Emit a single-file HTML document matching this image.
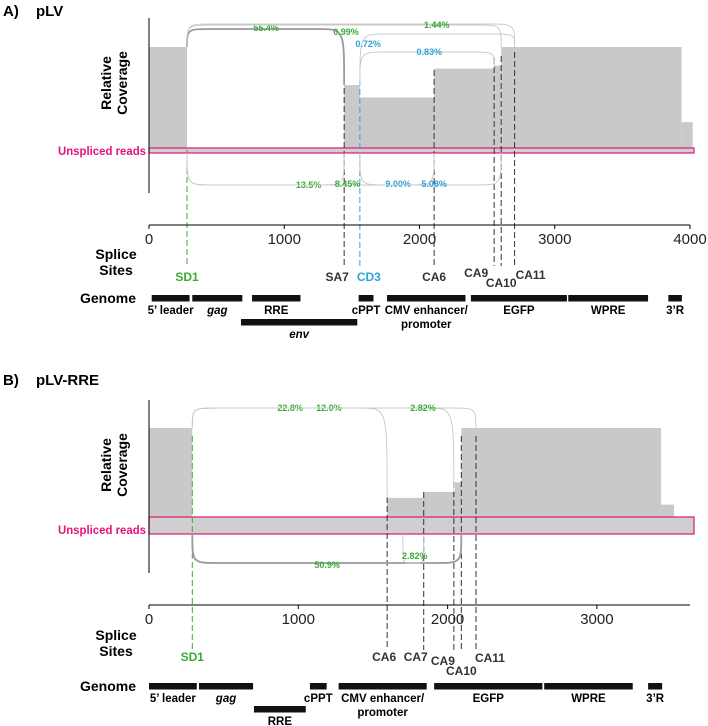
<!DOCTYPE html>
<html><head><meta charset="utf-8">
<style>
html,body{margin:0;padding:0;background:#fff;}
svg{display:block;font-family:"Liberation Sans",Arial,sans-serif;}
</style></head>
<body>
<svg id="fig" width="708" height="726" viewBox="0 0 708 726"></svg>
<script>
// ---------- Panel A data ----------
const aTicks = [0, 1000, 2000, 3000, 4000];
const aCovStart = [0, 1443, 1559, 2108, 2552, 2604, 3938];
const aCovEnd   = [281, 1559, 2108, 2552, 2604, 3938, 4020];
const aCovLevel = [100, 63, 51, 79, 82, 100, 27];
const aSiteNames = ["SD1", "SA7", "CD3", "CA6", "CA9", "CA10", "CA11"];
const aSiteBp    = [281, 1443, 1559, 2108, 2552, 2604, 2703];
const aArcFrom   = [281, 281, 281, 1559, 1559, 281, 281, 1559, 1559];
const aArcTo     = [1443, 2604, 2703, 2703, 2552, 1443, 2108, 2108, 2604];
const aArcLabel  = ["55.4%", "0.99%", "1.44%", "0.72%", "0.83%", "13.5%", "8.45%", "9.00%", "5.08%"];
const aArcLabelBp= [866, 1457, 2128, 1620, 2072, 1180, 1468, 1842, 2108];
const aGenomeNames = ["5’ leader", "gag", "RRE", "env", "cPPT", "CMV enhancer/|promoter", "EGFP", "WPRE", "3’R"];
const aGenomeStart = [20, 320, 762, 680, 1550, 1760, 2380, 3100, 3840];
const aGenomeEnd   = [300, 690, 1120, 1540, 1660, 2340, 3090, 3690, 3940];
const aGenomeRow   = [0, 0, 0, 1, 0, 0, 0, 0, 0];

// ---------- Panel B data ----------
const bTicks = [0, 1000, 2000, 3000];
const bCovStart = [0, 290, 1595, 1840, 2050, 2092, 3430];
const bCovEnd   = [290, 1595, 1840, 2050, 2092, 3430, 3517];
const bCovLevel = [100, 8, 28, 34, 44, 100, 21];
const bSiteNames = ["SD1", "CA6", "CA7", "CA9", "CA10", "CA11"];
const bSiteBp    = [290, 1595, 1840, 2042, 2092, 2190];
const bArcFrom   = [290, 290, 290, 290, 1700];
const bArcTo     = [1595, 2042, 2190, 2092, 1840];
const bArcLabel  = ["22.8%", "12.0%", "2.82%", "50.9%", "2.82%"];
const bArcLabelBp= [945, 1205, 1835, 1193, 1780];
const bGenomeNames = ["5’ leader", "gag", "RRE", "cPPT", "CMV enhancer/|promoter", "EGFP", "WPRE", "3’R"];
const bGenomeStart = [0, 335, 703, 1078, 1270, 1910, 2647, 3343];
const bGenomeEnd   = [320, 697, 1050, 1190, 1860, 2635, 3240, 3437];
const bGenomeRow   = [0, 0, 1, 0, 0, 0, 0, 0];

const NS = "http://www.w3.org/2000/svg";
const svg = document.getElementById("fig");
function mk(tag, attrs, parent, text) {
  const e = document.createElementNS(NS, tag);
  for (const k in attrs) e.setAttribute(k, attrs[k]);
  if (text !== undefined) e.textContent = text;
  (parent || svg).appendChild(e);
  return e;
}
const GREEN = "#3aaa35", BLUE = "#2ea3d8", PINK = "#e4137b";

function panel(cfg) {
  const g = mk("g", {});
  
  
  const xs = bp => cfg.x0 + bp * cfg.k;
  const ys = lv => cfg.base - lv * cfg.ys;
  function covTop(bp, left) {
    for (let i = 0; i < cfg.covStart.length; i++) {
      const inside = left ? (bp > cfg.covStart[i] && bp <= cfg.covEnd[i]) : (bp >= cfg.covStart[i] && bp < cfg.covEnd[i]);
      if (inside) return ys(cfg.covLevel[i]);
    }
    return cfg.bandTop;
  }

  const t = mk("text", {x: 3, y: cfg.titleY, "font-size": 15, "font-weight": "bold"}, g, cfg.letter + ")");
  
  
  const t2 = mk("text", {x: 36, y: cfg.titleY, "font-size": 15, "font-weight": "bold"}, g, cfg.title);
  
  

  for (let i = 0; i < cfg.covStart.length; i++) {
    const r = mk("rect", {x: xs(cfg.covStart[i]), y: ys(cfg.covLevel[i]), width: xs(cfg.covEnd[i]) - xs(cfg.covStart[i]), height: cfg.bandBot - ys(cfg.covLevel[i]), fill: "#c9c9c9"}, g);
    
    
  }
  const band = mk("rect", {x: cfg.x0, y: cfg.bandTop, width: cfg.axisEnd - cfg.x0 + 4, height: cfg.bandBot - cfg.bandTop, fill: "#cfcfcf", stroke: PINK, "stroke-width": 1.2}, g);
  
  
  const bl = mk("text", {x: cfg.x0 - 3, y: cfg.bandLabelY, "font-size": 12, "font-weight": "bold", fill: PINK, "text-anchor": "end", "textLength": 88, "lengthAdjust": "spacingAndGlyphs"}, g, "Unspliced reads");
  
  

  const ya = mk("line", {x1: cfg.x0, y1: cfg.yTop, x2: cfg.x0, y2: cfg.yBot, stroke: "#000", "stroke-width": 1}, g);
  
  
  const yt = mk("text", {transform: `translate(${cfg.x0 - 30},${cfg.yTitleY}) rotate(-90)`, "font-size": 14, "font-weight": "bold", "text-anchor": "middle"}, g);
  
  
  mk("tspan", {x: 0, dy: -8}, yt, "Relative");
  mk("tspan", {x: 0, dy: 16}, yt, "Coverage");

  for (let i = 0; i < cfg.siteBp.length; i++) {
    const col = cfg.siteNames[i] === "SD1" ? GREEN : (cfg.siteNames[i] === "CD3" ? BLUE : "#333");
    const l = mk("line", {x1: xs(cfg.siteBp[i]), y1: cfg.siteTop[i], x2: xs(cfg.siteBp[i]), y2: cfg.siteLineEnd, stroke: col, "stroke-width": 1, "stroke-dasharray": "6,3"}, g);
    
    
    const tx = mk("text", {x: xs(cfg.siteBp[i]) + cfg.siteDx[i], y: cfg.siteLabelY[i], "font-size": 12, "font-weight": "bold", fill: col, "text-anchor": "middle"}, g, cfg.siteNames[i]);
    
    
  }

  for (let i = 0; i < cfg.arcFrom.length; i++) {
    const x1 = xs(cfg.arcFrom[i]), x2 = xs(cfg.arcTo[i]);
    const top = cfg.arcTop[i];
    const py = top ? cfg.arcPeakTop[i] : cfg.arcPeakBot;
    const y1 = top ? covTop(cfg.arcFrom[i], true) : cfg.bandBot;
    const y2 = top ? covTop(cfg.arcTo[i], false) : cfg.bandBot;
    const r = Math.min(26, (x2 - x1) / 3);
    const d = `M${x1},${y1} C${x1},${py} ${x1},${py} ${x1 + r},${py} L${x2 - r},${py} C${x2},${py} ${x2},${py} ${x2},${y2}`;
    const dark = i === cfg.darkArc;
    const p = mk("path", {d, fill: "none", stroke: dark ? "#9a9a9a" : "#c8c8c8", "stroke-width": dark ? 1.8 : 0.9}, g);
    
    
    const col = cfg.arcBlue[i] ? BLUE : GREEN;
    const lt = mk("text", {x: xs(cfg.arcLabelBp[i]), y: cfg.arcLabelY[i], "font-size": 9, "font-weight": "bold", fill: col, "text-anchor": "middle"}, g, cfg.arcLabel[i]);
    
    
  }

  const xa = mk("line", {x1: cfg.x0, y1: cfg.axisY, x2: cfg.axisEnd, y2: cfg.axisY, stroke: "#000", "stroke-width": 1}, g);
  
  
  for (const tv of cfg.ticks) {
    const tl = mk("line", {x1: xs(tv), y1: cfg.axisY, x2: xs(tv), y2: cfg.axisY + 4, stroke: "#000"}, g);
    
    
    const tt = mk("text", {x: xs(tv), y: cfg.axisY + 19, "font-size": 15, "text-anchor": "middle", fill: "#222"}, g, String(tv));
    
    
  }
  const ss = mk("text", {x: 116, y: cfg.ssY, "font-size": 14, "font-weight": "bold", "text-anchor": "middle"}, g);
  
  
  mk("tspan", {x: 116, dy: 0}, ss, "Splice");
  mk("tspan", {x: 116, dy: 16}, ss, "Sites");

  const gl = mk("text", {x: 108, y: cfg.genY + 5, "font-size": 14, "font-weight": "bold", "text-anchor": "middle"}, g, "Genome");
  
  
  for (let i = 0; i < cfg.gNames.length; i++) {
    const by = cfg.genY + cfg.gRow[i] * cfg.rowGap;
    const x1 = xs(cfg.gStart[i]), x2 = xs(cfg.gEnd[i]);
    const b = mk("rect", {x: x1, y: by - 3, width: x2 - x1, height: 6.5, fill: "#111"}, g);
    
    
    const lines = cfg.gNames[i].split("|");
    const it = (cfg.gNames[i] === "gag" || cfg.gNames[i] === "env");
    for (let j = 0; j < lines.length; j++) {
      const lt = mk("text", {x: (x1 + x2) / 2, y: by + 16 + j * 14, "font-size": 11.5, "font-weight": "bold", "text-anchor": "middle", "font-style": it ? "italic" : "normal"}, g, lines[j]);
      
      
    }
  }
}

panel({
  id: "plv", letter: "A", title: "pLV", titleY: 16,
  x0: 149, k: 541 / 4000, axisEnd: 690, axisY: 225, ticks: aTicks,
  base: 150, ys: 1.03, bandTop: 148, bandBot: 153, bandLabelY: 155,
  yTop: 18, yBot: 193, yTitleY: 83,
  covStart: aCovStart, covEnd: aCovEnd, covLevel: aCovLevel,
  siteNames: aSiteNames, siteBp: aSiteBp,
  siteTop: [150, 88, 80, 70, 58, 56, 52],
  siteLineEnd: 266,
  siteLabelY: [281, 281, 281, 281, 277, 287, 279],
  siteDx: [0, -7, 9, 0, -18, 0, 16],
  arcFrom: aArcFrom, arcTo: aArcTo, arcLabel: aArcLabel, arcLabelBp: aArcLabelBp,
  arcTop: [1, 1, 1, 1, 1, 0, 0, 0, 0],
  arcPeakTop: [29, 25, 24, 34, 52], arcPeakBot: 185,
  arcBlue: [0, 0, 0, 1, 1, 0, 0, 1, 1],
  arcLabelY: [31, 35, 28, 47, 55, 188, 187, 187, 187],
  darkArc: 0,
  ssY: 259, genY: 298, rowGap: 24,
  gNames: aGenomeNames, gStart: aGenomeStart, gEnd: aGenomeEnd, gRow: aGenomeRow
});

panel({
  id: "plv-rre", letter: "B", title: "pLV-RRE", titleY: 385,
  x0: 149, k: 0.1493, axisEnd: 690, axisY: 605, ticks: bTicks,
  base: 525, ys: 0.97, bandTop: 517, bandBot: 534, bandLabelY: 534,
  yTop: 400, yBot: 573, yTitleY: 465,
  covStart: bCovStart, covEnd: bCovEnd, covLevel: bCovLevel,
  siteNames: bSiteNames, siteBp: bSiteBp,
  siteTop: [436, 497, 492, 482, 436, 436],
  siteLineEnd: 650,
  siteLabelY: [661, 661, 661, 665, 675, 662],
  siteDx: [0, -3, -8, -11, 0, 14],
  arcFrom: bArcFrom, arcTo: bArcTo, arcLabel: bArcLabel, arcLabelBp: bArcLabelBp,
  arcTop: [1, 1, 1, 0, 0],
  arcPeakTop: [408, 408, 408], arcPeakBot: 563,
  arcBlue: [0, 0, 0, 0, 0],
  arcLabelY: [411, 411, 411, 568, 559],
  darkArc: 3,
  ssY: 640, genY: 686, rowGap: 23,
  gNames: bGenomeNames, gStart: bGenomeStart, gEnd: bGenomeEnd, gRow: bGenomeRow
});
</script>
</body></html>
